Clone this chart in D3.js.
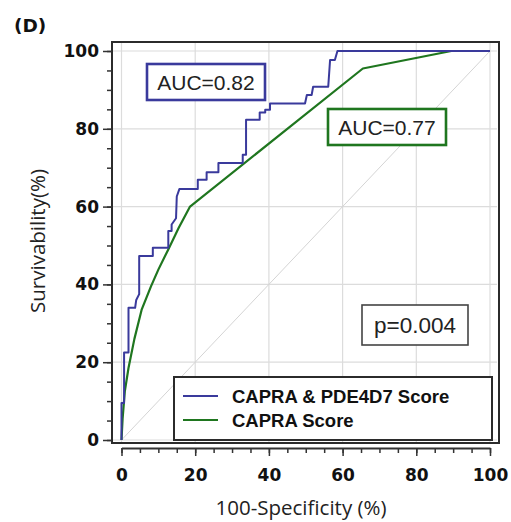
<!DOCTYPE html>
<html><head><meta charset="utf-8">
<script src="https://cdn.jsdelivr.net/npm/d3@7"></script>
<style>body{margin:0;background:#fff}svg{display:block}</style>
</head><body>
<svg id="c" width="511" height="522"></svg>
<script>
const xTicks = [0, 20, 40, 60, 80, 100];
const yTicks = [0, 20, 40, 60, 80, 100];
const seriesNames = ["CAPRA & PDE4D7 Score", "CAPRA Score"];
const aucLabels = ["AUC=0.82", "AUC=0.77"];
const pLabel = "p=0.004";
// CAPRA & PDE4D7 Score: [100-specificity %, survivability %]
const combinedRoc = [[0,0],[0,9.5],[0.7,9.5],[0.7,22.5],[1.9,22.5],[1.9,34],[3.7,34],[4.0,36],[4.8,37.5],[4.8,47.3],[8.5,47.3],[8.5,49.4],[12.7,49.4],[12.7,53.7],[13.6,53.7],[13.6,55.4],[14.8,57],[15,62.6],[15.7,64.5],[20.7,64.5],[20.7,66.9],[23.1,66.9],[23.1,68.8],[26.3,68.8],[26.3,71.2],[32.9,71.2],[32.9,73.3],[33.8,73.3],[33.8,82.3],[37.5,82.3],[37.5,84.2],[39,84.2],[39,84.9],[40.3,84.9],[40.3,86.5],[49.8,86.5],[50.3,88.7],[51.6,88.7],[52,90.8],[56.1,90.8],[56.6,97.7],[57.9,97.7],[58.6,100],[100,100]];
// CAPRA Score
const capraRoc = [[0,0],[0.3,5.5],[0.9,12.5],[1.9,18.5],[3.5,26],[5.5,33.6],[8,39.5],[10,43.8],[12.7,49],[15.5,54.5],[18.6,60],[65.5,95.5],[89.5,100],[100,100]];
const colors = ["#3a3a9c", "#1f761f"];

const svg = d3.select("#c");
const x = d3.scaleLinear().domain([0,100]).range([121.5,490]);
const y = d3.scaleLinear().domain([0,100]).range([440,51]);

// grid
const g = svg.append("g");
g.selectAll(".gx").data(xTicks).join("line")
  .attr("x1", d=>x(d)).attr("x2", d=>x(d)).attr("y1", 43).attr("y2", 442)
  .attr("stroke", "#dcdcdc").attr("stroke-width", 1.2);
g.selectAll(".gy").data(yTicks).join("line")
  .attr("y1", d=>y(d)).attr("y2", d=>y(d)).attr("x1", 113).attr("x2", 497)
  .attr("stroke", "#dcdcdc").attr("stroke-width", 1.2);
// diagonal
svg.append("line").attr("x1", x(0)).attr("y1", y(0)).attr("x2", x(100)).attr("y2", y(100))
  .attr("stroke", "#d4d4d4").attr("stroke-width", 1);

// frame
svg.append("rect").attr("x", 112).attr("y", 42).attr("width", 387).attr("height", 401)
  .attr("fill", "none").attr("stroke", "#2b2b2b").attr("stroke-width", 2);

// y axis
const yMinor = svg.append("g").attr("transform", "translate(112,0)")
  .call(d3.axisLeft(y).tickValues(d3.range(0,101,5)).tickSize(5).tickFormat(""));
yMinor.select(".domain").remove();
yMinor.selectAll("line").attr("stroke", "#333").attr("stroke-width", 1.5);
const yMajor = svg.append("g").attr("transform", "translate(112,0)")
  .call(d3.axisLeft(y).tickValues(yTicks).tickSize(9).tickPadding(4));
yMajor.select(".domain").remove();
yMajor.selectAll("line").attr("stroke", "#333").attr("stroke-width", 1.5);
yMajor.selectAll("text").attr("font-family", "DejaVu Sans").attr("font-weight", "bold")
  .attr("font-size", 17).attr("fill", "#111");

// x axis
const xMinor = svg.append("g").attr("transform", "translate(0,448)")
  .call(d3.axisBottom(x).tickValues(d3.range(0,101,5)).tickSize(5).tickSizeOuter(0).tickFormat(""));
xMinor.selectAll("line").attr("stroke", "#333").attr("stroke-width", 1.5);
xMinor.select(".domain").attr("stroke", "#333").attr("stroke-width", 1.8);
const xMajor = svg.append("g").attr("transform", "translate(0,448)")
  .call(d3.axisBottom(x).tickValues(xTicks).tickSize(8).tickSizeOuter(0).tickPadding(13));
xMajor.select(".domain").remove();
xMajor.selectAll("line").attr("stroke", "#333").attr("stroke-width", 1.5);
xMajor.selectAll("text").attr("font-family", "DejaVu Sans").attr("font-weight", "bold")
  .attr("font-size", 17).attr("fill", "#111");

// axis titles
svg.append("text").attr("x", 301).attr("y", 515).attr("text-anchor", "middle")
  .attr("font-family", "Open Sans").attr("font-size", 20.5).attr("fill", "#222")
  .text("100-Specificity (%)");
svg.append("text").attr("transform", "translate(45,241) rotate(-90)").attr("text-anchor", "middle")
  .attr("font-family", "Open Sans").attr("font-size", 20.5).attr("fill", "#222")
  .text("Survivability(%)");
svg.append("text").attr("x", 14).attr("y", 32)
  .attr("font-family", "DejaVu Sans").attr("font-weight", "bold").attr("font-size", 18.5).attr("fill", "#111")
  .text("(D)");

// curves
const line = d3.line().x(d=>x(d[0])).y(d=>y(d[1]));
svg.append("path").datum(capraRoc).attr("d", line).attr("fill", "none")
  .attr("stroke", colors[1]).attr("stroke-width", 2.2).attr("stroke-linejoin", "round");
svg.append("path").datum(combinedRoc).attr("d", line).attr("fill", "none")
  .attr("stroke", colors[0]).attr("stroke-width", 2).attr("stroke-linejoin", "round");

// AUC boxes
function box(bx, by, bw, bh, stroke, sw, txt, fs) {
  svg.append("rect").attr("x", bx).attr("y", by).attr("width", bw).attr("height", bh)
    .attr("fill", "#fff").attr("stroke", stroke).attr("stroke-width", sw);
  svg.append("text").attr("x", bx + bw/2).attr("y", by + bh/2).attr("dy", "0.36em")
    .attr("text-anchor", "middle").attr("font-family", "Liberation Sans").attr("font-size", fs)
    .attr("fill", "#222").text(txt);
}
box(147, 64, 118, 36, colors[0], 2.6, aucLabels[0], 21);
box(328, 109, 118, 36, colors[1], 2.6, aucLabels[1], 21);
box(362, 305, 106, 40, "#444", 1.6, pLabel, 22.5);

// legend
svg.append("rect").attr("x", 174).attr("y", 377).attr("width", 318).attr("height", 63)
  .attr("fill", "#fff").attr("stroke", "#2b2b2b").attr("stroke-width", 2);
const leg = svg.selectAll(".leg").data(seriesNames).join("g")
  .attr("transform", (d,i)=>`translate(0,${396 + i*24})`);
leg.append("line").attr("x1", 183).attr("x2", 218).attr("stroke", (d,i)=>colors[i]).attr("stroke-width", 2);
leg.append("text").attr("x", 232).attr("dy", "0.36em")
  .attr("font-family", "Liberation Sans").attr("font-weight", "bold").attr("font-size", 18.5)
  .attr("fill", "#111").text(d=>d);
</script>
</body></html>
